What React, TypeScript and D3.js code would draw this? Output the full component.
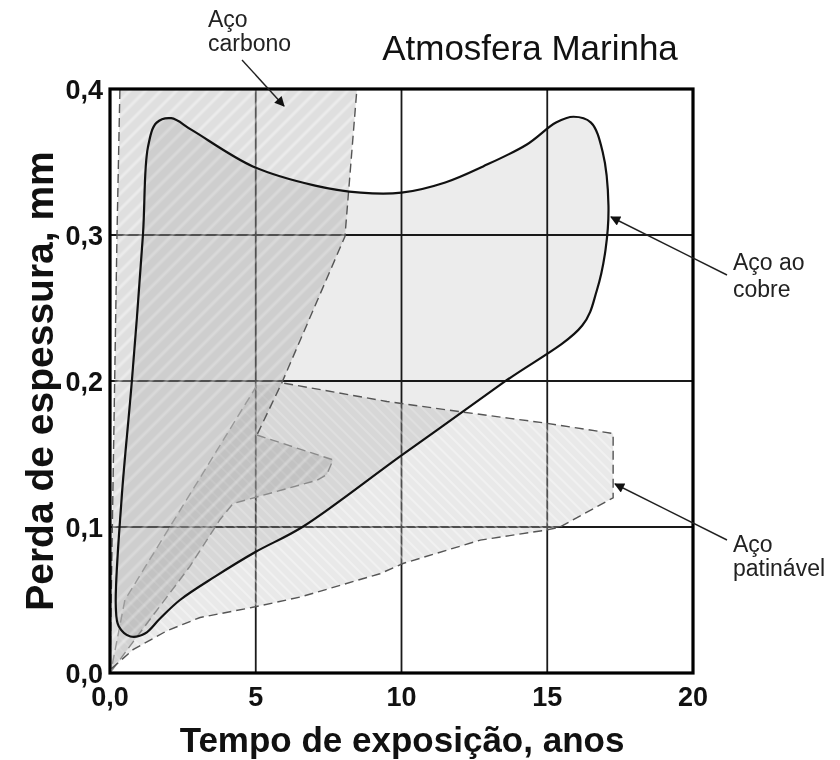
import React from "react";
import * as d3 from "d3";

const xTicks = [0, 5, 10, 15, 20];
const xTickLabels = ["0,0", "5", "10", "15", "20"];
const yTicks = [0, 0.1, 0.2, 0.3, 0.4];
const yTickLabels = ["0,0", "0,1", "0,2", "0,3", "0,4"];

// Aço ao cobre (copper steel) envelope
const copperSteel: [number, number][] = [
  [16.2, 0.238], [13.5, 0.199], [10, 0.149], [6.6, 0.1], [5, 0.083], [3.6, 0.066],
  [2.4, 0.05], [1.7, 0.037], [1.2, 0.027], [0.7, 0.025], [0.3, 0.032], [0.2, 0.045],
  [0.4, 0.12], [0.75, 0.2], [1.13, 0.3], [1.3, 0.36], [1.6, 0.377], [2.1, 0.38],
  [2.8, 0.372], [4.9, 0.347], [7, 0.334], [8.6, 0.329], [10, 0.329], [11.5, 0.336],
  [12.8, 0.347], [14.3, 0.362], [15.3, 0.377], [15.9, 0.381], [16.5, 0.377],
  [16.9, 0.357], [17.1, 0.32], [17.0, 0.29], [16.7, 0.262],
];

// Aço carbono (carbon steel) envelope
const carbonSteel: [number, number][] = [
  [0, 0], [0.24, 0.3], [0.34, 0.4], [8.47, 0.4], [8.06, 0.299], [5.9, 0.199],
  [5.04, 0.163], [7.65, 0.146], [7.44, 0.136], [7.1, 0.132], [4.22, 0.116],
  [3.77, 0.105], [2.74, 0.073], [0.93, 0.025], [0, 0],
];
const carbonOuterLine: [number, number][] = [
  [0, 0], [0.24, 0.3], [0.34, 0.4], [8.47, 0.4], [8.06, 0.299], [5.9, 0.199], [5.04, 0.163],
];
const carbonInnerLine: [number, number][] = [
  [5.04, 0.163], [7.65, 0.146], [7.44, 0.136], [7.1, 0.132], [4.22, 0.116],
  [3.77, 0.105], [2.74, 0.073], [0.93, 0.025], [0, 0],
];
const carbonDiagonal: [number, number][] = [
  [5.04, 0.197], [0.51, 0.05], [0.07, 0.005],
];

// Aço patinável (weathering steel) envelope
const weatheringSteel: [number, number][] = [
  [0.05, 0.003], [0.79, 0.016], [1.96, 0.029], [3.09, 0.038], [4.9, 0.045],
  [6.52, 0.052], [9.26, 0.068], [10.05, 0.075], [12.7, 0.091], [15.0, 0.098],
  [15.44, 0.1], [17.26, 0.12], [17.26, 0.164], [15.0, 0.171], [12.0, 0.179],
  [9.5, 0.186], [5.83, 0.199], [5.04, 0.197], [0.51, 0.05], [0.05, 0.003],
];
const weatheringLine: [number, number][] = [
  [0.05, 0.003], [0.79, 0.016], [1.96, 0.029], [3.09, 0.038], [4.9, 0.045],
  [6.52, 0.052], [9.26, 0.068], [10.05, 0.075], [12.7, 0.091], [15.0, 0.098],
  [15.44, 0.1], [17.26, 0.12], [17.26, 0.164], [15.0, 0.171], [12.0, 0.179],
  [9.5, 0.186], [5.83, 0.199],
];

const W = 840;
const H = 760;
const x = d3.scaleLinear().domain([0, 20]).range([110, 693]);
const y = d3.scaleLinear().domain([0, 0.4]).range([673, 89]);

const poly = d3.line<[number, number]>().x((d) => x(d[0])).y((d) => y(d[1]));
const smoothClosed = d3
  .line<[number, number]>()
  .x((d) => x(d[0]))
  .y((d) => y(d[1]))
  .curve(d3.curveCatmullRomClosed.alpha(0.5));

const font = "'Liberation Sans', Arial, sans-serif";

export default function App() {
  return (
    <svg width={W} height={H} style={{ position: "absolute", left: 0, top: 0, background: "#fff" }}>
      <defs>
        <pattern id="hatchC" patternUnits="userSpaceOnUse" width="11" height="11" patternTransform="rotate(45)">
          <rect width="11" height="11" fill="#b0b0b0" fillOpacity="0.4" />
          <line x1="2" y1="0" x2="2" y2="11" stroke="#ffffff" strokeOpacity="0.35" strokeWidth="3" />
        </pattern>
        <pattern id="hatchW" patternUnits="userSpaceOnUse" width="8" height="8" patternTransform="rotate(-45)">
          <rect width="8" height="8" fill="#bcbcbc" fillOpacity="0.32" />
          <line x1="2" y1="0" x2="2" y2="8" stroke="#ffffff" strokeOpacity="0.35" strokeWidth="2" />
        </pattern>
        <marker id="arrow" viewBox="0 0 10 10" refX="9" refY="5" markerWidth="15" markerHeight="10" markerUnits="userSpaceOnUse" orient="auto">
          <path d="M0,0 L10,5 L0,10 z" fill="#111" />
        </marker>
      </defs>

      {/* grid */}
      <g stroke="#1a1a1a" strokeWidth={1.8}>
        {xTicks.slice(1, -1).map((t) => (
          <line key={"gx" + t} x1={x(t)} x2={x(t)} y1={y(0)} y2={y(0.4)} />
        ))}
        {yTicks.slice(1, -1).map((t) => (
          <line key={"gy" + t} x1={x(0)} x2={x(20)} y1={y(t)} y2={y(t)} />
        ))}
      </g>

      {/* hatched envelopes */}
      <path d={poly(weatheringSteel) ?? ""} fill="url(#hatchW)" />
      <path d={poly(carbonSteel) ?? ""} fill="url(#hatchC)" />

      {/* copper steel */}
      <path d={smoothClosed(copperSteel) ?? ""} fill="#ececec" style={{ mixBlendMode: "multiply" }} />

      {/* dashed outlines */}
      <path d={poly(carbonOuterLine) ?? ""} fill="none" stroke="#555" strokeWidth={1.4} strokeDasharray="9 5" />
      <path d={poly(carbonInnerLine) ?? ""} fill="none" stroke="#8a8a8a" strokeWidth={1.4} strokeDasharray="9 5" />
      <path d={poly(carbonDiagonal) ?? ""} fill="none" stroke="#9a9a9a" strokeWidth={1.4} strokeDasharray="9 5" />
      <path d={poly(weatheringLine) ?? ""} fill="none" stroke="#555" strokeWidth={1.4} strokeDasharray="9 5" />

      {/* copper outline */}
      <path d={smoothClosed(copperSteel) ?? ""} fill="none" stroke="#111" strokeWidth={2.2} />

      {/* frame */}
      <rect x={x(0)} y={y(0.4)} width={x(20) - x(0)} height={y(0) - y(0.4)} fill="none" stroke="#000" strokeWidth={3.2} />

      {/* tick labels */}
      <g fontFamily={font} fontWeight="bold" fontSize={27} fill="#111">
        {xTicks.map((t, i) => (
          <text key={"xt" + t} x={x(t)} y={706} textAnchor="middle">{xTickLabels[i]}</text>
        ))}
        {yTicks.map((t, i) => (
          <text key={"yt" + t} x={103} y={y(t) + 10} textAnchor="end">{yTickLabels[i]}</text>
        ))}
      </g>

      {/* axis titles */}
      <text x={402} y={752} textAnchor="middle" fontFamily={font} fontWeight="bold" fontSize={35} fill="#111">
        Tempo de exposição, anos
      </text>
      <text transform="translate(53,381) rotate(-90)" textAnchor="middle" fontFamily={font} fontWeight="bold" fontSize={39} fill="#111">
        Perda de espessura, mm
      </text>

      {/* title */}
      <text x={530} y={60} textAnchor="middle" fontFamily={font} fontSize={35} fill="#111">
        Atmosfera Marinha
      </text>

      {/* annotations */}
      <g fontFamily={font} fontSize={23} fill="#222">
        <text x={208} y={27}>Aço</text>
        <text x={208} y={51}>carbono</text>
        <text x={733} y={270}>Aço ao</text>
        <text x={733} y={297}>cobre</text>
        <text x={733} y={552}>Aço</text>
        <text x={733} y={576}>patinável</text>
      </g>
      <g stroke="#222" strokeWidth={1.4}>
        <line x1={242} y1={60} x2={284} y2={106} markerEnd="url(#arrow)" />
        <line x1={727} y1={275} x2={611} y2={217} markerEnd="url(#arrow)" />
        <line x1={727} y1={540} x2={615} y2={484} markerEnd="url(#arrow)" />
      </g>
    </svg>
  );
}
